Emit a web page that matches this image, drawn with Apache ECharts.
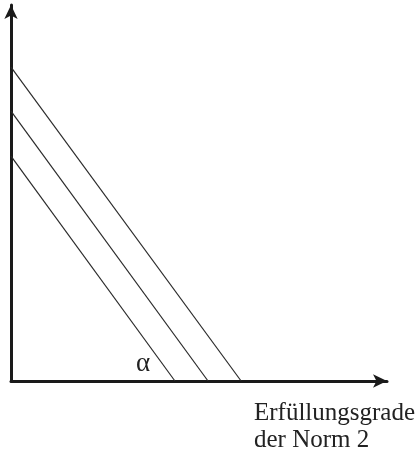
<!DOCTYPE html>
<html>
<head>
<meta charset="utf-8">
<script src="https://cdn.jsdelivr.net/npm/echarts@6/dist/echarts.min.js"></script>
<style>html,body{margin:0;padding:0;background:#fff}#c{width:419px;height:454px}</style>
</head>
<body>
<div id="c"></div>
<script>
// Each line: [y-intercept, x-intercept] in axis units (0..100)
var lineNames = ['inner', 'middle', 'outer'];
var yIntercepts = [59.8, 71.8, 83.5];
var xIntercepts = [43.6, 52.4, 61.2];
var xAxisTitle = 'Erfüllungsgrade\nder Norm 2';
var angleLabel = 'α';

var chart = echarts.init(document.getElementById('c'));
var series = lineNames.map(function (n, i) {
  return {
    name: n,
    type: 'line',
    data: [[0, yIntercepts[i]], [xIntercepts[i], 0]],
    symbol: 'none',
    silent: true,
    lineStyle: { color: '#2a2a2a', width: 1.2 }
  };
});
chart.setOption({
  animation: false,
  grid: { left: 11, right: 32, top: 5, bottom: 73 },
  xAxis: {
    type: 'value', min: 0, max: 100,
    axisLine: { show: true, symbol: ['none', 'arrow'], symbolSize: [10, 14], lineStyle: { color: '#1a1a1a', width: 3 } },
    axisTick: { show: false }, axisLabel: { show: false }, splitLine: { show: false }
  },
  yAxis: {
    type: 'value', min: 0, max: 100,
    axisLine: { show: true, symbol: ['none', 'arrow'], symbolSize: [10, 14], lineStyle: { color: '#1a1a1a', width: 3 } },
    axisTick: { show: false }, axisLabel: { show: false }, splitLine: { show: false }
  },
  series: series,
  graphic: [
    { type: 'text', left: 254, top: 400, style: { text: xAxisTitle, font: '25px "Liberation Serif"', fill: '#222', lineHeight: 27 } },
    { type: 'text', left: 136, top: 350, style: { text: angleLabel, font: '27px "Liberation Serif"', fill: '#222' } }
  ]
});
</script>
</body>
</html>
